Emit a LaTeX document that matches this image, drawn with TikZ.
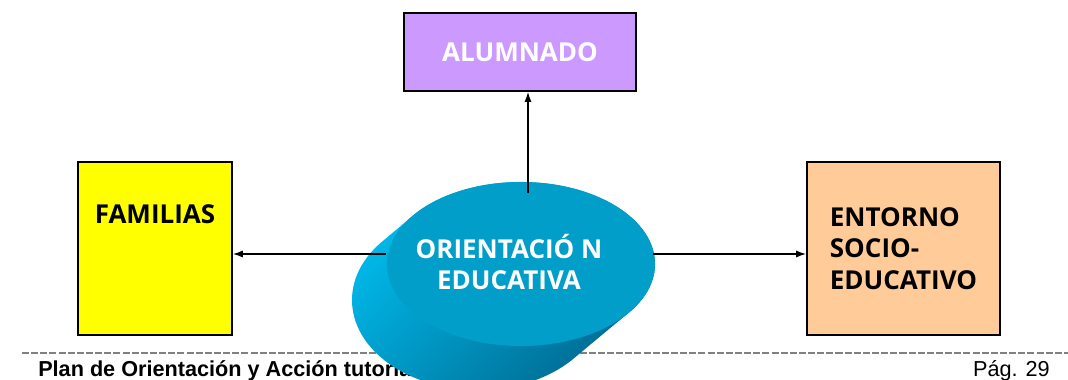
\documentclass[tikz,border=0pt]{standalone}
\usepackage{fontspec}
\setmainfont{Open Sans}
\newfontfamily\footfont{Liberation Sans}
\usetikzlibrary{shapes.geometric,arrows.meta}

\definecolor{alupurple}{RGB}{204,153,255}
\definecolor{famyellow}{RGB}{255,255,0}
\definecolor{entorange}{RGB}{255,204,153}
\definecolor{ovaltop}{RGB}{0,158,200}
\definecolor{sidelight}{RGB}{0,186,234}
\definecolor{sidedark}{RGB}{0,105,145}

\tikzset{
  box/.style={draw=black, line width=1.4pt, inner sep=0pt},
  boxtext/.style={font=\bfseries\fontsize{18.5}{22.5}\selectfont},
  oval/.style={ellipse, fill=ovaltop, minimum width=6.7cm, minimum height=4.1cm, inner sep=0pt},
  conn/.style={-{Latex[length=7pt,width=5pt]}, line width=0.8pt},
}

\begin{document}
\begin{tikzpicture}[x=0.025cm,y=-0.025cm]
  \useasboundingbox (0,0) rectangle (1068,380);
  \clip (0,0) rectangle (1068,380);

  % footer ---------------------------------------------------------------------
  \draw[gray, line width=0.8pt, dash pattern=on 5pt off 1.5pt] (22,353) -- (1068,353);
  \node[anchor=base west, inner sep=0pt, font=\footfont\bfseries\fontsize{15.4}{17}\selectfont]
        (plan) at (38,377) {Plan de Orientación y Acción tutorial};
  \node[anchor=base east, inner sep=0pt, font=\footfont\fontsize{15.4}{17}\selectfont]
        (pag) at (1050,377) {Pág. 29};

  % cylinder: side (swept ellipses), then top face -------------------------------
  \shade[top color=sidelight, bottom color=sidedark, shading angle=45]
        \foreach \k in {0,...,24}{
          ({521-43*\k/24},{264+36*\k/24})
          ellipse [x radius={134-8*\k/24}, y radius={82+8*\k/24}]
        };
  \node[oval, label={[boxtext, text=white, align=center, xshift=-0.3cm, yshift=0.05cm]center:{ORIENTACIÓ N\\EDUCATIVA}}]
        (ori) at (521,264) {};

  % boxes ----------------------------------------------------------------------
  \node[box, fill=alupurple, minimum width=5.8cm, minimum height=1.95cm, boxtext, text=white]
        (alu) at (520,52) {ALUMNADO};
  \node[box, fill=famyellow, minimum width=3.85cm, minimum height=4.325cm,
        label={[boxtext, anchor=north, inner sep=0pt, yshift=-1.075cm]north:FAMILIAS}]
        (fam) at (155,248.5) {};
  \node[box, fill=entorange, minimum width=4.825cm, minimum height=4.325cm, boxtext, align=left]
        (ent) at (903.5,248.5) {ENTORNO\\SOCIO-\\EDUCATIVO};

  % connectors -----------------------------------------------------------------
  \coordinate (oriN) at (528,193);
  \coordinate (oriW) at (386,254);
  \coordinate (oriE) at (653,254);
  \draw[conn] (oriN) -- (oriN |- alu.south);
  \draw[conn] (oriW) -- (oriW -| fam.east);
  \draw[conn] (oriE) -- (oriE -| ent.west);
\end{tikzpicture}
\end{document}
